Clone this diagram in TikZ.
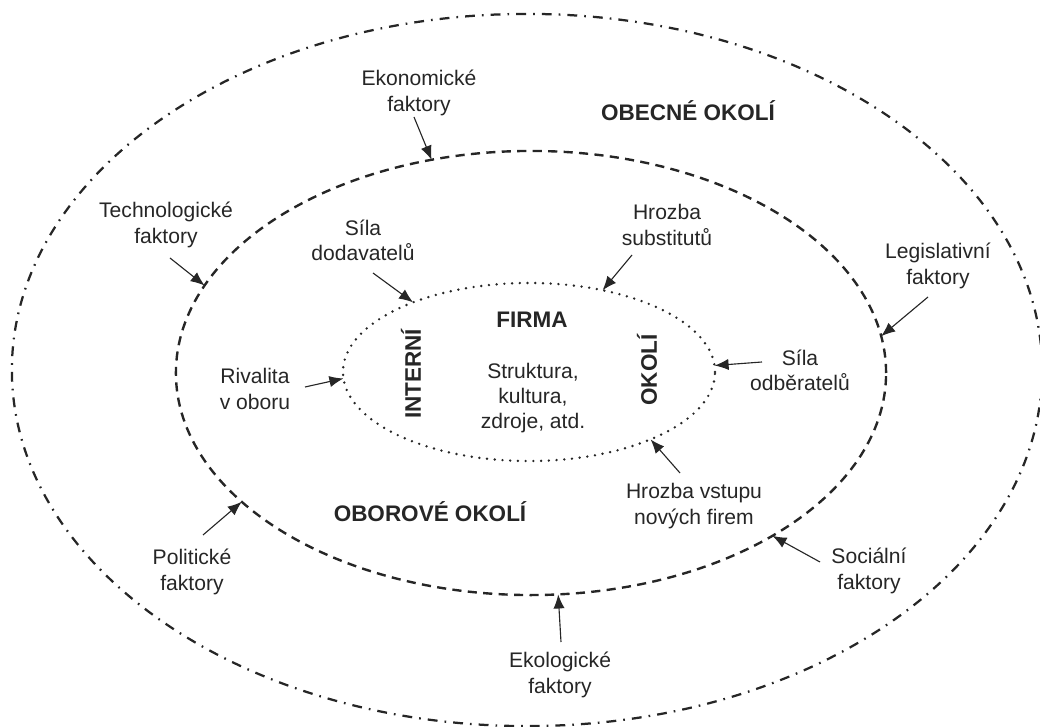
\documentclass[tikz,border=0pt]{standalone}
\usepackage{fontspec}
\setmainfont{Liberation Sans}
\usetikzlibrary{shapes.geometric,arrows.meta}
\tikzset{
  ring/.style={ellipse,inner sep=0pt,outer sep=0pt},
  arr/.style={-{Latex[length=10pt,width=8pt]},line width=0.8pt},
  lbl/.style={align=center,inner sep=1pt},
  hlbl/.style={font=\fontsize{16}{19}\selectfont\bfseries,inner sep=1pt}
}
\begin{document}
\begin{tikzpicture}[x=0.025cm,y=-0.025cm,font=\fontsize{15}{18}\selectfont,
  color=black!85]
\useasboundingbox (0,0) rectangle (1040,727);
% the three rings
\node[ring,draw,line width=1.6pt,dash pattern=on 7pt off 5pt on 1.2pt off 5pt,
  minimum width=25.75cm,minimum height=17.8cm] (obecne) at (527,370) {};
\node[ring,draw,line width=1.7pt,dash pattern=on 6.5pt off 4.5pt,
  minimum width=17.75cm,minimum height=11.1cm] (oborove) at (531,373) {};
\node[ring,draw,line width=1.9pt,line cap=round,dash pattern=on 0pt off 5.5pt,
  minimum width=9.3cm,minimum height=4.45cm] (firma) at (529,372) {};
% headings
\node[hlbl] (hobecne) at (688,111) {OBECNÉ OKOLÍ};
\node[hlbl] (hoborove) at (430,512) {OBOROVÉ OKOLÍ};
\node[hlbl] (hfirma) at (532,320) {FIRMA};
\node[hlbl,rotate=90] (hinterni) at (411,374) {INTERNÍ};
\node[hlbl,rotate=90] (hokoli) at (647,370) {OKOLÍ};
\node[lbl] (zdroje) at (533,398) {Struktura,\\kultura,\\zdroje, atd.};
% general environment factors
\node[lbl] (eko) at (419,93) {Ekonomické\\faktory};
\node[lbl] (tech) at (166,225) {Technologické\\faktory};
\node[lbl] (legis) at (938,266) {Legislativní\\faktory};
\node[lbl] (polit) at (192,572) {Politické\\faktory};
\node[lbl] (soc) at (869,571) {Sociální\\faktory};
\node[lbl] (ekol) at (560,675) {Ekologické\\faktory};
% industry forces
\node[lbl] (dod) at (363,240) {Síla\\dodavatelů};
\node[lbl] (subst) at (667,225) {Hrozba\\substitutů};
\node[lbl] (odb) at (800,370) {Síla\\odběratelů};
\node[lbl] (rival) at (255,389) {Rivalita\\v oboru};
\node[lbl] (vstup) at (694,506) {Hrozba vstupu\\nových firem};
% arrow tails
\coordinate (eko-t) at (414,117);
\coordinate (tech-t) at (170,258);
\coordinate (legis-t) at (928,297);
\coordinate (polit-t) at (203,535);
\coordinate (soc-t) at (820,562);
\coordinate (ekol-t) at (561,642);
\coordinate (dod-t) at (373,273);
\coordinate (subst-t) at (632,255);
\coordinate (odb-t) at (762,362);
\coordinate (rival-t) at (305,387);
\coordinate (vstup-t) at (680,473);
\draw[arr] (eko-t) -- (oborove.115);
\draw[arr] (tech-t) -- (oborove.165.3);
\draw[arr] (legis-t) -- (oborove.6.7);
\draw[arr] (polit-t) -- (oborove.204.4);
\draw[arr] (soc-t) -- (oborove.326.7);
\draw[arr] (ekol-t) -- (oborove.277);
\draw[arr] (dod-t) -- (firma.149.5);
\draw[arr] (subst-t) -- (firma.48.6);
\draw[arr] (odb-t) -- (firma.2);
\draw[arr] (rival-t) -- (firma.182.5);
\draw[arr] (vstup-t) -- (firma.331.8);
\end{tikzpicture}
\end{document}
